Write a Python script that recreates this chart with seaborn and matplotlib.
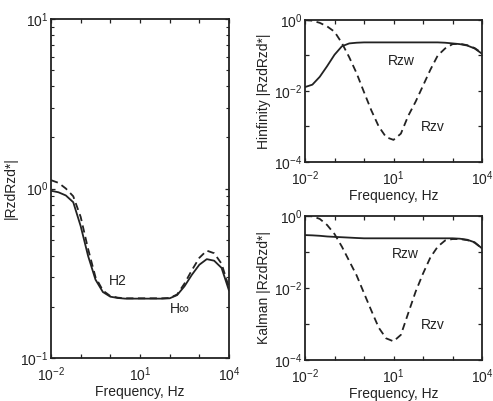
import numpy as np
import pandas as pd
import matplotlib
matplotlib.use("Agg")
import matplotlib.pyplot as plt
import matplotlib.ticker as mticker
import seaborn as sns

# ---------------- data ----------------
freq = [0.01, 0.0178, 0.0316, 0.0562, 0.1, 0.178, 0.316, 0.562, 1.0, 1.78,
        3.16, 5.62, 10.0, 17.8, 31.6, 56.2, 100.0, 178.0, 316.0, 562.0,
        1000.0, 1780.0, 3160.0, 5620.0, 10000.0]

# left panel |RzdRzd*|
left_solid = [0.97, 0.95, 0.91, 0.83, 0.60, 0.40, 0.29, 0.245, 0.23, 0.226,
              0.224, 0.224, 0.224, 0.224, 0.224, 0.224, 0.225, 0.235, 0.265, 0.31,
              0.355, 0.383, 0.375, 0.34, 0.25]
left_dashed = [1.12, 1.08, 1.00, 0.90, 0.68, 0.44, 0.30, 0.25, 0.232, 0.227,
               0.225, 0.225, 0.225, 0.225, 0.225, 0.225, 0.226, 0.237, 0.275, 0.33,
               0.39, 0.43, 0.415, 0.36, 0.26]

# Hinfinity panel
hinf_rzw = [0.0129, 0.0151, 0.0251, 0.0501, 0.105, 0.182, 0.219, 0.229, 0.234, 0.234,
            0.234, 0.234, 0.234, 0.234, 0.234, 0.234, 0.234, 0.234, 0.234, 0.229,
            0.219, 0.209, 0.191, 0.158, 0.112]
hinf_rzv = [1.0, 0.955, 0.832, 0.661, 0.468, 0.224, 0.0891, 0.0316, 0.0093, 0.00282,
            0.001, 0.0005, 0.00042, 0.00063, 0.002, 0.0050, 0.0141, 0.0398, 0.100, 0.158,
            0.209, 0.214, 0.195, 0.162, 0.117]

# Kalman panel
kal_rzw = [0.295, 0.29, 0.282, 0.27, 0.263, 0.257, 0.251, 0.245, 0.240, 0.240,
           0.240, 0.240, 0.240, 0.240, 0.240, 0.240, 0.240, 0.240, 0.240, 0.240,
           0.240, 0.234, 0.219, 0.186, 0.126]
kal_rzv = [1.0, 0.977, 0.832, 0.562, 0.316, 0.141, 0.0562, 0.0224, 0.0072, 0.00234,
           0.00079, 0.0004, 0.00033, 0.0005, 0.002, 0.0079, 0.0251, 0.0708, 0.141, 0.209,
           0.229, 0.229, 0.214, 0.182, 0.126]

xlabel = "Frequency, Hz"
ylabels = ["|RzdRzd*|", "Hinfinity |RzdRzd*|", "Kalman |RzdRzd*|"]

# ---------------- style ----------------
sns.set_style("ticks")
plt.rcParams["font.family"] = ["Liberation Sans", "DejaVu Sans"]
plt.rcParams["mathtext.fontset"] = "custom"
plt.rcParams["mathtext.rm"] = "Liberation Sans"
plt.rcParams["mathtext.it"] = "Liberation Sans"
plt.rcParams["mathtext.default"] = "regular"

INK = "#222222"
FS = 10

fig = plt.figure(figsize=(4.93, 4.01), dpi=100)
fig.patch.set_facecolor("white")

ax_l = fig.add_axes([51/493, 1-358/401, 178/493, 339/401])
ax_h = fig.add_axes([305/493, 1-162/401, 177/493, 142/401])
ax_k = fig.add_axes([305/493, 1-360/401, 177/493, 144/401])


def pow_fmt(shown):
    def f(v, pos):
        if v <= 0:
            return ""
        e = int(round(np.log10(v)))
        if e in shown:
            return r"$10^{%d}$" % e
        return ""
    return mticker.FuncFormatter(f)


def style(ax, ylo, yhi, yshown, ylab, yminor):
    ax.set_xscale("log")
    ax.set_yscale("log")
    ax.set_xlim(1e-2, 1e4)
    ax.set_ylim(10.0**ylo, 10.0**yhi)
    ax.xaxis.set_major_locator(mticker.FixedLocator([10.0**e for e in range(-2, 5)]))
    ax.xaxis.set_minor_locator(mticker.NullLocator())
    ax.xaxis.set_major_formatter(pow_fmt([-2, 1, 4]))
    ax.yaxis.set_major_locator(mticker.FixedLocator([10.0**e for e in range(ylo, yhi+1)]))
    if yminor:
        ax.yaxis.set_minor_locator(mticker.LogLocator(base=10, subs=np.arange(2, 10)))
        ax.yaxis.set_minor_formatter(mticker.NullFormatter())
    else:
        ax.yaxis.set_minor_locator(mticker.NullLocator())
    ax.yaxis.set_major_formatter(pow_fmt(yshown))
    ax.tick_params(which="both", direction="in", top=True, right=True,
                   colors=INK, labelsize=FS)
    ax.tick_params(axis="x", which="major", pad=5)
    ax.tick_params(axis="y", which="major", pad=2)
    ax.tick_params(which="major", length=3, width=0.9)
    ax.tick_params(which="minor", length=2, width=0.8)
    for s in ax.spines.values():
        s.set_color(INK)
        s.set_linewidth(1.3)
        s.set_visible(True)
    ax.set_xlabel(xlabel, fontsize=FS, color=INK, labelpad=1)
    ax.set_ylabel(ylab, fontsize=FS, color=INK, labelpad=2)
    ax.set_facecolor("white")
    ax.grid(False)


def draw(ax, ys_solid, ys_dashed):
    df = pd.DataFrame({"f": freq, "solid": ys_solid, "dashed": ys_dashed})
    sns.lineplot(data=df, x="f", y="dashed", ax=ax, color=INK, lw=1.3,
                 linestyle=(0, (4, 2.5)), estimator=None, sort=False)
    sns.lineplot(data=df, x="f", y="solid", ax=ax, color=INK, lw=1.3,
                 estimator=None, sort=False)


draw(ax_l, left_solid, left_dashed)
draw(ax_h, hinf_rzw, hinf_rzv)
draw(ax_k, kal_rzw, kal_rzv)

style(ax_l, -1, 1, [-1, 0, 1], ylabels[0], True)
style(ax_h, -4, 0, [-4, -2, 0], ylabels[1], False)
style(ax_k, -4, 0, [-4, -2, 0], ylabels[2], False)

ax_l.text(1.8, 0.286, "H2", fontsize=FS, color=INK, ha="center", va="center")
ax_l.text(220, 0.195, "H\u221e", fontsize=FS, color=INK, ha="center", va="center")
ax_h.text(18, 0.072, "Rzw", fontsize=FS, color=INK, ha="center", va="center")
ax_h.text(215, 0.00098, "Rzv", fontsize=FS, color=INK, ha="center", va="center")
ax_k.text(26, 0.087, "Rzw", fontsize=FS, color=INK, ha="center", va="center")
ax_k.text(220, 0.00095, "Rzv", fontsize=FS, color=INK, ha="center", va="center")

fig.savefig("out.png", dpi=100, facecolor="white")
